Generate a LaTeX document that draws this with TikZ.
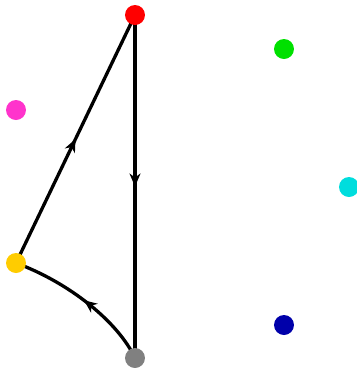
\documentclass[tikz,border=0pt]{standalone}
\usetikzlibrary{decorations.markings,arrows.meta}
\definecolor{cred}{HTML}{FF0000}
\definecolor{cgreen}{HTML}{00E000}
\definecolor{cmag}{HTML}{FF33CC}
\definecolor{ccyan}{HTML}{00DDDD}
\definecolor{cyel}{HTML}{FFCC00}
\definecolor{cblue}{HTML}{0000AA}
\definecolor{cgray}{HTML}{808080}
\tikzset{
  dot/.style={circle,fill=#1,draw=none,inner sep=0pt,minimum size=20pt},
  edge/.style={line width=3.3pt,black,
    postaction={decorate},
    decoration={markings,mark=at position 0.5 with {\arrow{Stealth[length=13pt,width=11pt,inset=4pt]}}}}
}
\begin{document}
\begin{tikzpicture}[x=1pt,y=-1pt]
\useasboundingbox (0,0) rectangle (357,368);
\coordinate (R) at (135,15);
\coordinate (Y) at (16,263);
\coordinate (G) at (135,358);
\draw[edge] (Y) -- (R);
\draw[edge] (R) -- (G);
\draw[edge] (G) .. controls (118,322) and (70,283) .. (Y);
\node[dot=cred] (red) at (R) {};
\node[dot=cgreen] (green) at (284,49) {};
\node[dot=cmag] (mag) at (16,110) {};
\node[dot=ccyan] (cyan) at (349,187) {};
\node[dot=cyel] (yel) at (Y) {};
\node[dot=cblue] (blue) at (284,325) {};
\node[dot=cgray] (gray) at (G) {};
\end{tikzpicture}
\end{document}
